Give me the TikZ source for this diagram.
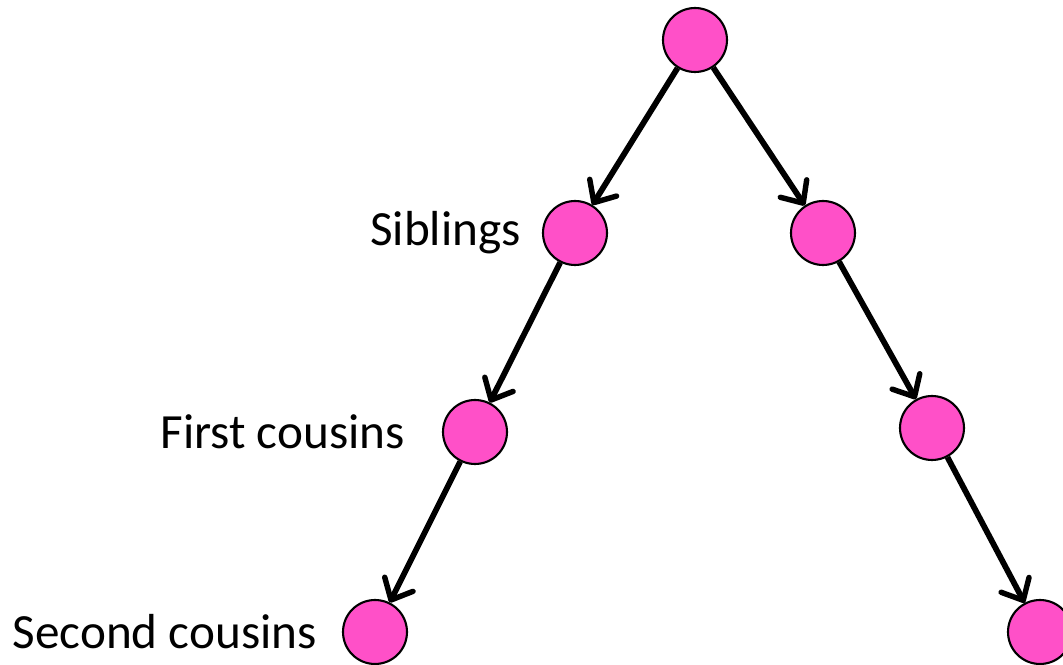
\documentclass[tikz,border=0pt]{standalone}
\usepackage{fontspec}
\setmainfont{Carlito}
\usetikzlibrary{positioning,arrows.meta}

\definecolor{person}{RGB}{255,80,200}

\tikzset{
  member/.style={circle, draw, line width=1.2pt, fill=person, minimum size=1.28cm, inner sep=0pt},
  tag/.style={font=\fontsize{28}{31}\selectfont},
  descent/.style={-{Straight Barb[length=10pt,width=18pt,line width=3.1pt,round]}, line width=3.3pt},
}

\begin{document}
\begin{tikzpicture}[x=0.02cm, y=-0.02cm]

            \useasboundingbox (0,0) rectangle (1063,665);

            \node[member] (root) at (695,40) {};
            \node[member] (left1) at (575,233) {};
            \node[member] (left2) at (475,432) {};
            \node[member] (left3) at (375,632) {};
            \node[member] (right1) at (823,233) {};
            \node[member] (right2) at (932,428) {};
            \node[member] (right3) at (1040,632) {};

            \node[tag, left=0.3cm of left1] (sib) {Siblings};
            \node[tag, left=0.62cm of left2] (first) {First cousins};
            \node[tag, left=0.38cm of left3] (second) {Second cousins};

            \draw[descent] (root) -- (left1);
            \draw[descent] (left1) -- (left2);
            \draw[descent] (left2) -- (left3);
            \draw[descent] (root) -- (right1);
            \draw[descent] (right1) -- (right2);
            \draw[descent] (right2) -- (right3);

        \end{tikzpicture}
\end{document}
